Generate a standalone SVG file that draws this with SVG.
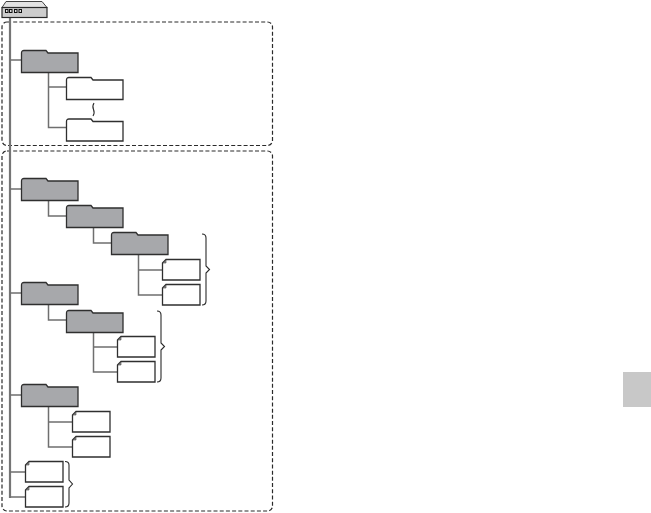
<svg xmlns="http://www.w3.org/2000/svg" width="651" height="513" viewBox="0 0 651 513">
<defs>
<style>
.c{fill:none;stroke:#6f6f6f;stroke-width:1.5}
.t{fill:none;stroke:#757575;stroke-width:2.2}
.g{fill:#a7a8ab;stroke:#2f2f2f;stroke-width:1.3}
.w{fill:#fff;stroke:#2f2f2f;stroke-width:1.3}
.b{fill:none;stroke:#2a2a2a;stroke-width:1.1}
.d{fill:none;stroke:#2a2a2a;stroke-width:1.2;stroke-dasharray:4 2.2}
.e{fill:#8a8a8a;stroke:#444;stroke-width:.6}
</style>
<path id="fo" d="M0.500 22.500V3Q0.500 0.500 3 0.500H25L27 3H57V22.500Z"/>
<path id="fi" d="M0.500 4L4 0.500H38V21H0.500Z"/>
<path id="ea" d="M1 4H4V1Z"/>
<path id="br" d="M0 0Q4 0 4 4V32L7.500 35.500L4 39V67Q4 71 0 71"/>
</defs>
<rect x="623" y="372" width="28" height="35" fill="#c8c8c8"/>
<g id="frames">
<rect class="d" x="2" y="22" width="270.500" height="123.500" rx="5"/>
<rect class="d" x="2" y="151" width="270.500" height="360" rx="5"/>
</g>
<g id="connectors">
<path class="t" d="M10 18V498"/>
<path class="c" d="M10 60H21M10 189H21M10 293H21M10 395H21M10 472H25M10 497H25"/>
<path class="c" d="M48.500 72V127.500H66M48.500 87H66"/>
<path class="c" d="M48.500 201V216H66M93.500 228V243H111M138.500 255V295H162M138.500 270H162"/>
<path class="c" d="M48.500 305V320H66M93.500 332V372H117M93.500 347H117"/>
<path class="c" d="M48.500 407V447H72M48.500 422H72"/>
</g>
<g id="device">
<path d="M2 7.500L6 1.500H42L47 7.500Z" fill="#e3e3e3" stroke="#444" stroke-width="1"/>
<rect x="2" y="7.500" width="45" height="10" fill="#cdcdcd" stroke="#2a2a2a" stroke-width="1.200"/>
<g fill="#ddd" stroke="#111" stroke-width="1"><rect x="5.500" y="9.500" width="2.500" height="3"/><rect x="9.500" y="9.500" width="2.500" height="3"/><rect x="14.500" y="9.500" width="2.500" height="3"/><rect x="19" y="9.500" width="2.500" height="3"/></g>
</g>
<g id="folder-1"><use href="#fo" class="g" x="21" y="50"/></g>
<g id="folder-1a"><use href="#fo" class="w" x="66" y="77"/></g>
<g id="folder-1b"><use href="#fo" class="w" x="66" y="118.500"/></g>
<path id="squiggle" class="b" d="M94 103Q92 106 93.500 109.500T93 116"/>
<g id="folder-2"><use href="#fo" class="g" x="21" y="178"/></g>
<g id="folder-3"><use href="#fo" class="g" x="66" y="205"/></g>
<g id="folder-4"><use href="#fo" class="g" x="111" y="232"/></g>
<g id="file-1"><use href="#fi" class="w" x="162" y="259"/><use href="#ea" class="e" x="162" y="259"/></g>
<g id="file-2"><use href="#fi" class="w" x="162" y="284"/><use href="#ea" class="e" x="162" y="284"/></g>
<use id="brace-1" href="#br" class="b" x="202" y="234"/>
<g id="folder-5"><use href="#fo" class="g" x="21" y="282"/></g>
<g id="folder-6"><use href="#fo" class="g" x="66" y="310"/></g>
<g id="file-3"><use href="#fi" class="w" x="117" y="336"/><use href="#ea" class="e" x="117" y="336"/></g>
<g id="file-4"><use href="#fi" class="w" x="117" y="361"/><use href="#ea" class="e" x="117" y="361"/></g>
<use id="brace-2" href="#br" class="b" x="157" y="311"/>
<g id="folder-7"><use href="#fo" class="g" x="21" y="384"/></g>
<g id="file-5"><use href="#fi" class="w" x="72" y="411"/><use href="#ea" class="e" x="72" y="411"/></g>
<g id="file-6"><use href="#fi" class="w" x="72" y="436"/><use href="#ea" class="e" x="72" y="436"/></g>
<g id="file-7"><use href="#fi" class="w" x="25" y="461"/><use href="#ea" class="e" x="25" y="461"/></g>
<g id="file-8"><use href="#fi" class="w" x="25" y="486"/><use href="#ea" class="e" x="25" y="486"/></g>
<path id="brace-3" class="b" d="M65 461.500Q69 461.500 69 465V480L72.500 484L69 488V503Q69 507 65 507"/>
</svg>
